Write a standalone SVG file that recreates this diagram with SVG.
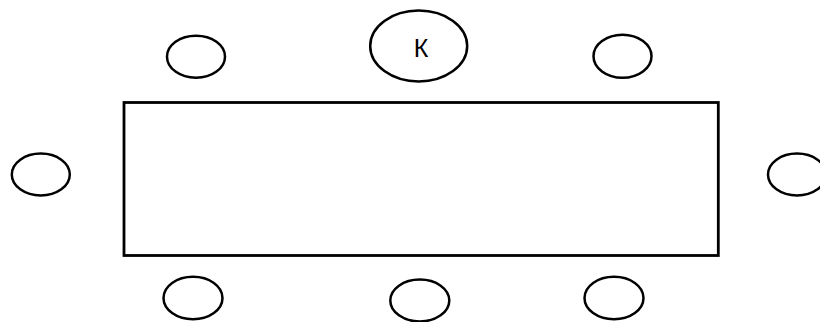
<svg xmlns="http://www.w3.org/2000/svg" width="820" height="322" viewBox="0 0 820 322">
<style>
.seat{fill:#fff;stroke:#000;stroke-width:2.5}
.table{fill:#fff;stroke:#000;stroke-width:2.8}
.lbl{font-family:"Liberation Sans","Noto Sans",sans-serif;font-size:25px;fill:#000;text-anchor:middle}
</style>
<rect width="820" height="322" fill="#fff"/>
<g id="table"><rect class="table" x="124" y="102.5" width="594.3" height="153"/></g>
<g id="seat-k"><ellipse class="seat" cx="418.7" cy="46" rx="48.5" ry="35.5" stroke-width="2"/><text class="lbl" x="421" y="56.7">К</text></g>
<g id="seat-tl"><ellipse class="seat" cx="196" cy="56.7" rx="29" ry="21"/></g>
<g id="seat-tr"><ellipse class="seat" cx="622.5" cy="56.2" rx="29" ry="21.5"/></g>
<g id="seat-l"><ellipse class="seat" cx="40.8" cy="174.5" rx="29" ry="21"/></g>
<g id="seat-r"><ellipse class="seat" cx="797" cy="174.5" rx="29" ry="21"/></g>
<g id="seat-bl"><ellipse class="seat" cx="193" cy="298" rx="29.5" ry="21.2"/></g>
<g id="seat-bm"><ellipse class="seat" cx="419.8" cy="300.5" rx="29.5" ry="21"/></g>
<g id="seat-br"><ellipse class="seat" cx="614" cy="298" rx="29.5" ry="21.2"/></g>
<g id="connectors"></g>
</svg>
